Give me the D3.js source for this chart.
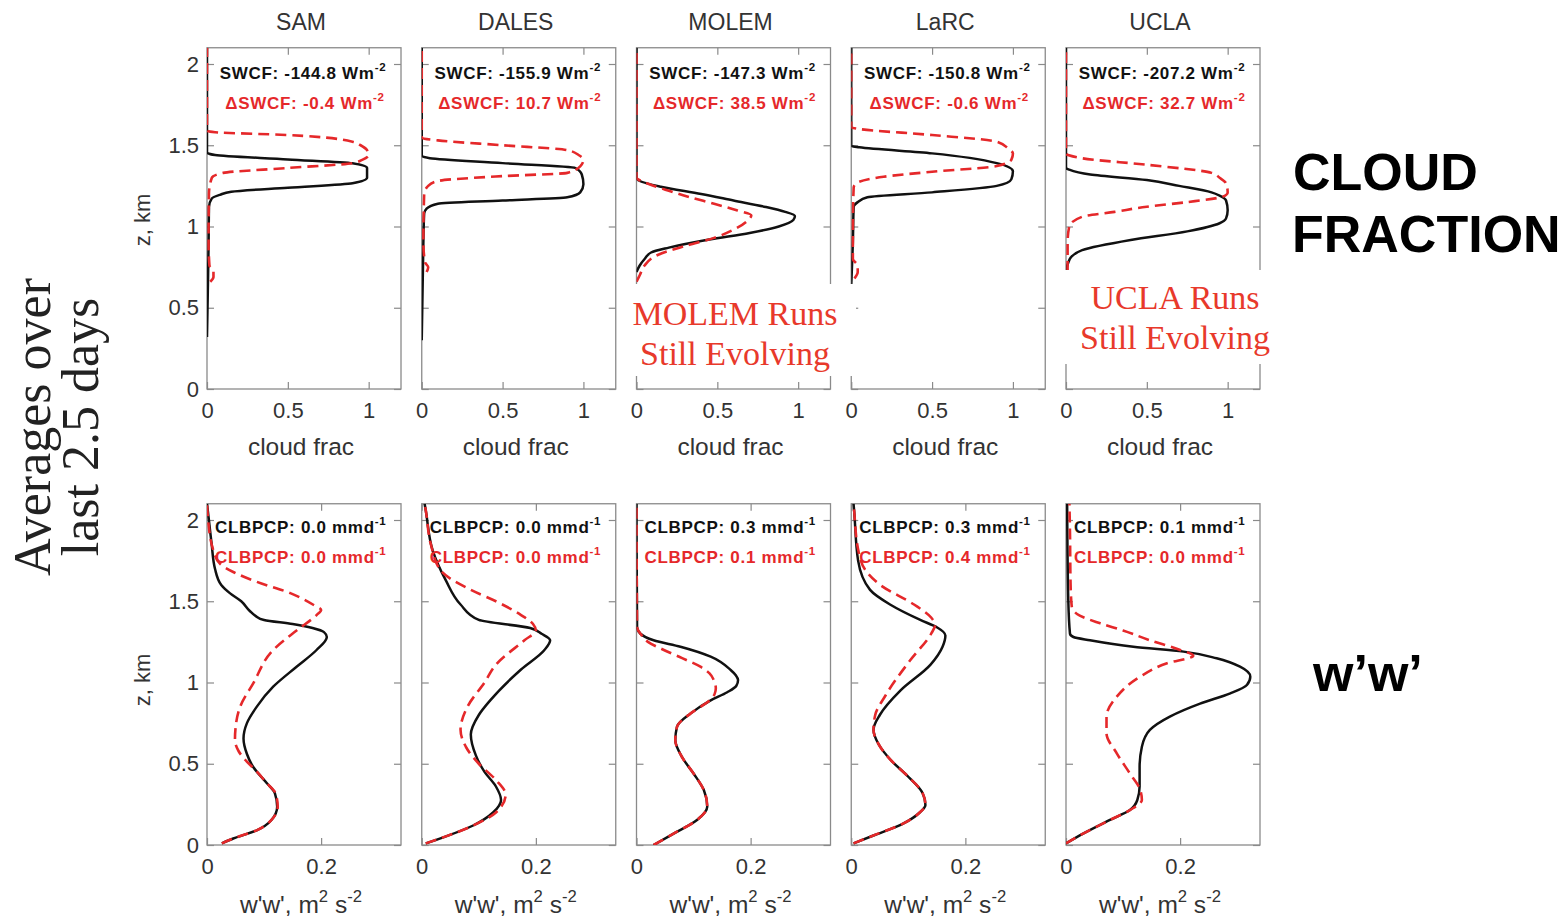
<!DOCTYPE html>
<html>
<head>
<meta charset="utf-8">
<script src="https://cdn.jsdelivr.net/npm/d3@7"></script>
<style>
  html, body { margin: 0; padding: 0; background: #fff; }
  svg { display: block; }
  svg text { font-family: "Liberation Sans", Arial, Helvetica, sans-serif; }
  svg text.serif { font-family: "Liberation Serif", "Times New Roman", serif; }
</style>
</head>
<body>
<svg id="chart" width="1563" height="921"></svg>
<script>
// ---------- model names and summary numbers ----------
const models = ["SAM", "DALES", "MOLEM", "LaRC", "UCLA"];
const swcf = [-144.8, -155.9, -147.3, -150.8, -207.2];
const dSwcf = [-0.4, 10.7, 38.5, -0.6, 32.7];
const clbpcpCtl = [0.0, 0.0, 0.3, 0.3, 0.1];
const clbpcpExp = [0.0, 0.0, 0.1, 0.4, 0.0];

// ---------- tick values ----------
const zTicks = [0, 0.5, 1, 1.5, 2];
const cfTicks = [0, 0.5, 1];
const wwTicks = [0, 0.2];

// ---------- cloud fraction profiles: [z (km), fraction] ----------
const samCfCtl = [[0.32,0],[0.6,0.005],[0.9,0.01],[1.12,0.012],[1.173,0.03],[1.195,0.08],[1.214,0.15],[1.239,0.5],[1.266,0.9],[1.3,0.99],[1.36,0.99],[1.389,0.9],[1.413,0.5],[1.44,0.05],[1.455,0],[2.1,0]];
const samCfExp = [[0.66,0.02],[0.69,0.04],[0.73,0.04],[0.76,0.015],[0.9,0.01],[1.2,0.012],[1.3,0.03],[1.33,0.1],[1.36,0.5],[1.39,0.9],[1.41,0.96],[1.44,1.0],[1.47,0.99],[1.5,0.95],[1.522,0.9],[1.563,0.5],[1.58,0.05],[1.59,0],[2.1,0]];
const dalesCfCtl = [[0.3,0],[0.9,0.01],[1.08,0.015],[1.11,0.03],[1.14,0.1],[1.16,0.5],[1.18,0.9],[1.21,0.98],[1.26,1.0],[1.32,0.99],[1.36,0.95],[1.39,0.5],[1.42,0.05],[1.435,0],[2.1,0]];
const dalesCfExp = [[0.72,0.03],[0.75,0.04],[0.78,0.02],[0.9,0.01],[1.2,0.015],[1.25,0.04],[1.28,0.1],[1.31,0.5],[1.33,0.9],[1.37,0.98],[1.41,1.0],[1.44,0.97],[1.47,0.9],[1.5,0.5],[1.53,0.1],[1.545,0],[2.1,0]];
const molemCfCtl = [[0.72,0],[0.76,0.02],[0.8,0.05],[0.84,0.09],[0.87,0.2],[0.92,0.45],[0.96,0.7],[1.0,0.88],[1.04,0.97],[1.065,0.98],[1.09,0.92],[1.12,0.8],[1.16,0.6],[1.2,0.4],[1.245,0.15],[1.28,0.02],[1.3,0],[2.1,0]];
const molemCfExp = [[0.66,0],[0.7,0.02],[0.76,0.05],[0.82,0.12],[0.88,0.3],[0.93,0.48],[0.98,0.6],[1.03,0.68],[1.07,0.71],[1.1,0.62],[1.14,0.48],[1.18,0.33],[1.22,0.2],[1.26,0.08],[1.29,0.01],[1.3,0],[2.1,0]];
const larcCfCtl = [[0.64,0],[0.9,0.01],[1.12,0.015],[1.15,0.04],[1.18,0.1],[1.21,0.5],[1.25,0.9],[1.29,0.99],[1.34,1.0],[1.39,0.9],[1.45,0.5],[1.487,0.05],[1.495,0],[2.1,0]];
const larcCfExp = [[0.68,0.02],[0.72,0.04],[0.76,0.04],[0.8,0.01],[1.0,0.01],[1.24,0.015],[1.265,0.03],[1.306,0.2],[1.337,0.5],[1.372,0.9],[1.41,0.99],[1.45,1.0],[1.48,0.97],[1.522,0.9],[1.563,0.5],[1.6,0.05],[1.61,0],[2.1,0]];
const uclaCfCtl = [[0.73,0],[0.78,0.015],[0.81,0.03],[0.855,0.1],[0.917,0.4],[0.97,0.75],[1.02,0.95],[1.05,0.99],[1.1,1.0],[1.16,0.99],[1.19,0.95],[1.21,0.9],[1.25,0.7],[1.286,0.5],[1.32,0.15],[1.35,0.02],[1.36,0],[2.1,0]];
const uclaCfExp = [[0.72,0.01],[0.9,0.01],[1.0,0.02],[1.06,0.1],[1.09,0.3],[1.122,0.5],[1.15,0.75],[1.184,0.97],[1.21,1.0],[1.265,0.99],[1.3,0.95],[1.33,0.9],[1.38,0.5],[1.42,0.1],[1.45,0],[2.1,0]];

// ---------- vertical velocity variance profiles: [z (km), w'w' (m2 s-2)] ----------
const samWwCtl = [[0.01,0.026],[0.04,0.046],[0.09,0.087],[0.154,0.113],[0.236,0.123],[0.318,0.119],[0.38,0.105],[0.48,0.081],[0.56,0.07],[0.656,0.064],[0.75,0.07],[0.85,0.087],[0.974,0.116],[1.097,0.157],[1.2,0.192],[1.28,0.21],[1.31,0.205],[1.335,0.185],[1.36,0.15],[1.385,0.1],[1.41,0.085],[1.44,0.075],[1.5,0.06],[1.55,0.04],[1.6,0.025],[1.7,0.014],[1.856,0.008],[2.04,0.002],[2.1,0]];
const samWwExp = [[0.01,0.026],[0.04,0.046],[0.09,0.087],[0.154,0.113],[0.236,0.124],[0.318,0.12],[0.38,0.105],[0.46,0.085],[0.52,0.068],[0.58,0.055],[0.646,0.049],[0.75,0.051],[0.85,0.058],[0.995,0.081],[1.2,0.116],[1.32,0.157],[1.415,0.192],[1.446,0.2],[1.477,0.187],[1.55,0.146],[1.62,0.087],[1.68,0.046],[1.73,0.023],[1.815,0.011],[2.0,0.002],[2.1,0]];
const dalesWwCtl = [[0.01,0.007],[0.05,0.04],[0.12,0.09],[0.2,0.125],[0.277,0.139],[0.36,0.13],[0.45,0.11],[0.55,0.095],[0.68,0.086],[0.8,0.1],[0.89,0.12],[1.08,0.174],[1.2,0.215],[1.26,0.225],[1.3,0.21],[1.335,0.19],[1.385,0.1],[1.48,0.068],[1.63,0.042],[1.815,0.019],[2.06,0.007],[2.1,0.005]];
const dalesWwExp = [[0.01,0.007],[0.05,0.04],[0.12,0.09],[0.2,0.13],[0.31,0.147],[0.4,0.13],[0.5,0.1],[0.6,0.078],[0.71,0.068],[0.85,0.08],[1.0,0.11],[1.11,0.13],[1.26,0.18],[1.32,0.2],[1.36,0.195],[1.415,0.174],[1.5,0.13],[1.57,0.086],[1.69,0.033],[1.85,0.016],[2.06,0.007],[2.1,0.005]];
const molemWwCtl = [[0.0,0.03],[0.07,0.065],[0.154,0.106],[0.236,0.124],[0.338,0.118],[0.44,0.1],[0.54,0.08],[0.646,0.068],[0.728,0.071],[0.81,0.095],[0.89,0.13],[0.94,0.159],[0.98,0.175],[1.015,0.178],[1.045,0.174],[1.077,0.165],[1.159,0.13],[1.22,0.077],[1.26,0.03],[1.3,0.007],[1.34,0.001],[2.1,0]];
const molemWwExp = [[0.0,0.03],[0.07,0.065],[0.154,0.106],[0.236,0.124],[0.338,0.118],[0.44,0.1],[0.54,0.08],[0.646,0.068],[0.728,0.071],[0.81,0.095],[0.89,0.128],[0.93,0.137],[0.964,0.139],[1.01,0.136],[1.056,0.128],[1.097,0.112],[1.15,0.08],[1.2,0.048],[1.25,0.02],[1.3,0.007],[1.34,0.001],[2.1,0]];
const larcWwCtl = [[0.01,0.004],[0.06,0.04],[0.13,0.09],[0.2,0.12],[0.246,0.13],[0.32,0.125],[0.42,0.1],[0.52,0.07],[0.62,0.048],[0.71,0.039],[0.8,0.05],[0.95,0.086],[1.11,0.139],[1.22,0.16],[1.29,0.165],[1.34,0.15],[1.385,0.121],[1.48,0.068],[1.57,0.033],[1.75,0.012],[2.06,0.005],[2.1,0.004]];
const larcWwExp = [[0.01,0.004],[0.06,0.04],[0.13,0.09],[0.2,0.12],[0.246,0.13],[0.32,0.125],[0.42,0.1],[0.52,0.07],[0.62,0.048],[0.71,0.039],[0.8,0.042],[0.92,0.06],[1.14,0.104],[1.3,0.14],[1.354,0.147],[1.4,0.14],[1.48,0.11],[1.6,0.051],[1.69,0.025],[1.82,0.012],[2.06,0.005],[2.1,0.004]];
const uclaWwCtl = [[0.01,0.0],[0.07,0.03],[0.154,0.077],[0.215,0.112],[0.277,0.125],[0.36,0.129],[0.48,0.129],[0.605,0.133],[0.708,0.147],[0.79,0.182],[0.87,0.235],[0.933,0.288],[0.985,0.317],[1.036,0.323],[1.097,0.305],[1.149,0.264],[1.19,0.206],[1.22,0.118],[1.26,0.042],[1.28,0.013],[1.3,0.007],[1.51,0.004],[2.1,0.002]];
const uclaWwExp = [[0.01,0.0],[0.07,0.03],[0.154,0.077],[0.215,0.112],[0.277,0.133],[0.34,0.13],[0.44,0.112],[0.564,0.089],[0.687,0.071],[0.79,0.071],[0.913,0.089],[1.036,0.13],[1.118,0.177],[1.165,0.223],[1.2,0.2],[1.26,0.147],[1.32,0.1],[1.364,0.06],[1.42,0.02],[1.47,0.01],[1.61,0.008],[1.92,0.007],[2.1,0.006]];

const cfCtl = [samCfCtl, dalesCfCtl, molemCfCtl, larcCfCtl, uclaCfCtl];
const cfExp = [samCfExp, dalesCfExp, molemCfExp, larcCfExp, uclaCfExp];
const wwCtl = [samWwCtl, dalesWwCtl, molemWwCtl, larcWwCtl, uclaWwCtl];
const wwExp = [samWwExp, dalesWwExp, molemWwExp, larcWwExp, uclaWwExp];

// ---------- styling ----------
const BLACK = "#111";
const RED = "#e5282a";
const AXIS_GRAY = "#8a8a8a";
const LABEL_GRAY = "#333";

const svg = d3.select("#chart");

const col = d3.scaleBand().domain(models).range([207, 1260]).paddingInner(0.0966);
const W = col.bandwidth();

const yTop = d3.scaleLinear().domain([0, 2.1]).range([389, 47.75]);
const yBot = d3.scaleLinear().domain([0, 2.1]).range([845, 503.75]);
const xCf = d3.scaleLinear().domain([0, 1.2]).range([0, W]);
const xWw = d3.scaleLinear().domain([0, 0.34]).range([0, W]);

const fmtTick = d => String(d);

// text with raised superscript pieces: parts = [[string, isSup], ...]
function richText(parent, x, y, parts, size, color, weight, anchor) {
  const t = parent.append("text")
    .attr("x", x).attr("y", y)
    .attr("font-size", size)
    .attr("font-weight", weight || "normal")
    .attr("fill", color)
    .attr("text-anchor", anchor || "start");
  let raised = false;
  const rise = Math.round(size * 0.45);
  parts.forEach(([s, sup]) => {
    const ts = t.append("tspan").text(s);
    if (sup && !raised) { ts.attr("dy", -rise).attr("font-size", size * 0.68); raised = true; }
    else if (sup) { ts.attr("font-size", size * 0.68); }
    else if (raised) { ts.attr("dy", rise); raised = false; }
  });
  return t;
}

function drawPanel(i, y, x, xTicks, ctl, exp, row) {
  const m = models[i];
  const g = svg.append("g").attr("transform", `translate(${col(m)},0)`);
  const clipId = `clip-${row}-${i}`;
  g.append("clipPath").attr("id", clipId)
    .append("rect").attr("x", 0).attr("y", y(2.1)).attr("width", W).attr("height", y(0) - y(2.1));

  // axes with inward ticks on all four sides; height labels only on the first column
  const axL = g.append("g").call(d3.axisLeft(y).tickValues(zTicks).tickSize(-7).tickPadding(8)
    .tickFormat(i === 0 ? fmtTick : ""));
  const axR = g.append("g").attr("transform", `translate(${W},0)`).call(d3.axisRight(y).tickValues(zTicks).tickSize(-7).tickFormat(""));
  const axB = g.append("g").attr("transform", `translate(0,${y(0)})`).call(d3.axisBottom(x).tickValues(xTicks).tickSize(-7).tickPadding(13).tickFormat(fmtTick));
  const axT = g.append("g").attr("transform", `translate(0,${y(2.1)})`).call(d3.axisTop(x).tickValues(xTicks).tickSize(-7).tickFormat(""));
  [axL, axR, axB, axT].forEach(a => {
    a.select(".domain").remove();
    a.selectAll("line").attr("stroke", AXIS_GRAY).attr("stroke-width", 1.2);
    a.selectAll("text").attr("font-size", 22).attr("fill", LABEL_GRAY);
  });

  g.append("rect").attr("x", 0).attr("y", y(2.1)).attr("width", W).attr("height", y(0) - y(2.1))
    .attr("fill", "none").attr("stroke", AXIS_GRAY).attr("stroke-width", 1.3);

  const line = d3.line().x(d => x(d[1])).y(d => y(d[0])).curve(d3.curveMonotoneY);
  const lines = g.append("g").attr("clip-path", `url(#${clipId})`);
  lines.append("path").attr("d", line(ctl)).attr("fill", "none")
    .attr("stroke", BLACK).attr("stroke-width", 2.5).attr("stroke-linejoin", "round");
  lines.append("path").attr("d", line(exp)).attr("fill", "none")
    .attr("stroke", RED).attr("stroke-width", 2.6).attr("stroke-dasharray", "11,6");
  return g;
}

models.forEach((m, i) => {
  // cloud fraction row
  const gt = drawPanel(i, yTop, xCf, cfTicks, cfCtl[i], cfExp[i], "cf");
  richText(gt, W / 2 - 1, yTop(2.1) + 31,
    [[`SWCF: ${swcf[i].toFixed(1)} Wm`, false], ["-2", true]], 17, BLACK, "bold", "middle")
    .attr("letter-spacing", 0.7);
  richText(gt, W / 2 + 1, yTop(2.1) + 61,
    [[`\u0394SWCF: ${dSwcf[i].toFixed(1)} Wm`, false], ["-2", true]], 17, RED, "bold", "middle")
    .attr("letter-spacing", 0.7);

  // w'w' row
  const gb = drawPanel(i, yBot, xWw, wwTicks, wwCtl[i], wwExp[i], "ww");
  richText(gb, 8, yBot(2.1) + 29,
    [[`CLBPCP: ${clbpcpCtl[i].toFixed(1)} mmd`, false], ["-1", true]], 17, BLACK, "bold", "start")
    .attr("letter-spacing", 0.7);
  richText(gb, 8, yBot(2.1) + 59,
    [[`CLBPCP: ${clbpcpExp[i].toFixed(1)} mmd`, false], ["-1", true]], 17, RED, "bold", "start")
    .attr("letter-spacing", 0.7);

  // column title
  svg.append("text").attr("x", col(m) + W / 2 - 3).attr("y", 30)
    .attr("text-anchor", "middle").attr("font-size", 23).attr("fill", LABEL_GRAY).text(m);

  // x-axis labels
  svg.append("text").attr("x", col(m) + W / 2 - 3).attr("y", 455)
    .attr("text-anchor", "middle").attr("font-size", 24.5).attr("fill", LABEL_GRAY).text("cloud frac");
  richText(svg, col(m) + W / 2 - 3, 913,
    [["w'w', m", false], ["2", true], [" s", false], ["-2", true]], 24.5, LABEL_GRAY, "normal", "middle");
});

// y-axis labels
[[yTop, 220], [yBot, 680]].forEach(([y, cy]) => {
  svg.append("text")
    .attr("transform", `translate(0,${cy}) rotate(-90)`)
    .attr("x", 0).attr("y", 150)
    .attr("text-anchor", "middle").attr("font-size", 22).attr("fill", LABEL_GRAY)
    .text("z, km");
});

// notes about runs that have not yet settled
function runNote(cx, rx, ry, rw, rh, line1Y, name) {
  svg.append("rect").attr("x", rx).attr("y", ry).attr("width", rw).attr("height", rh).attr("fill", "#fff");
  const t = svg.append("text").attr("class", "serif").attr("text-anchor", "middle")
    .attr("font-size", 34).attr("fill", "#e8392b");
  t.append("tspan").attr("x", cx).attr("y", line1Y).text(`${name} Runs`);
  t.append("tspan").attr("x", cx).attr("y", line1Y + 40).text("Still Evolving");
}
runNote(735, 627, 284, 229, 92, 325, "MOLEM");
runNote(1175, 1062, 270, 214, 94, 309, "UCLA");

// row labels on the right
const side = svg.append("g").attr("font-weight", "bold").attr("fill", "#000");
side.append("text").attr("x", 1293).attr("y", 190).attr("font-size", 52).text("CLOUD");
side.append("text").attr("x", 1292).attr("y", 252).attr("font-size", 52).text("FRACTION");
side.append("text").attr("x", 1313).attr("y", 691).attr("font-size", 52).text("w\u2019w\u2019");

// rotated caption on the left
const cap = svg.append("text").attr("class", "serif")
  .attr("transform", "translate(0,427) rotate(-90)")
  .attr("text-anchor", "middle")
  .attr("font-size", 52).attr("fill", "#222");
cap.append("tspan").attr("x", 0).attr("y", 50).text("Averages over");
cap.append("tspan").attr("x", 0).attr("y", 98).text("last 2.5 days");
</script>
</body>
</html>
